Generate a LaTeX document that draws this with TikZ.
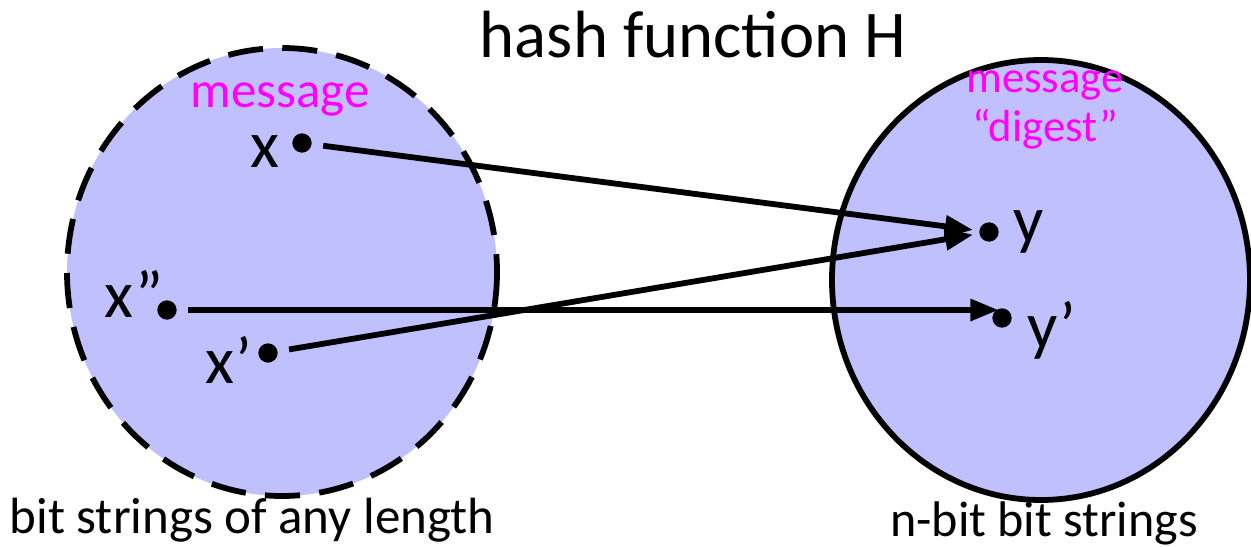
\documentclass[tikz,border=0pt]{standalone}
\usepackage{fontspec}
\setmainfont{Carlito}
\usetikzlibrary{arrows.meta}

\definecolor{setfill}{HTML}{C0C0FF}
\definecolor{msgpink}{HTML}{FF00FF}

\tikzset{
  dot/.style={circle, fill=black, inner sep=0pt, minimum size=11pt},
  elem/.style={font=\fontsize{38}{40}\selectfont},
  setname/.style={text=msgpink, font=\fontsize{29}{30}\selectfont, align=center},
  caption/.style={font=\fontsize{29}{30}\selectfont},
  map/.style={-{Triangle[length=16pt, width=12pt]}, shorten <=5pt, shorten >=2pt}
}

\begin{document}
\begin{tikzpicture}[x=0.02cm, y=-0.02cm, line width=3.3pt]
                \useasboundingbox (0,0) rectangle (1251,547);

                % Domain and range:
                \draw[fill=setfill, dash pattern=on 20pt off 11pt] (282,272) ellipse [x radius=215, y radius=224];
                \draw[fill=setfill] (1041,280) ellipse [x radius=209, y radius=220];

                % Title and captions:
                \node[font=\fontsize{38}{40}\selectfont] (title) at (693,35) {hash function H};
                \node[caption] (dom) at (252,520) {bit strings of any length};
                \node[caption, font=\fontsize{28.5}{30}\selectfont] (rng) at (1044,523) {n-bit bit strings};
                \node[setname] (msg) at (280,100) {message};
                \node[setname, font=\fontsize{25.5}{28}\selectfont] (dig) at (1045,110) {message\\“digest”};

                % Points:
                \node[dot] (x) at (302,143) {};
                \node[dot] (x2) at (167,310) {};
                \node[dot] (x1) at (268,353) {};
                \node[dot] (y) at (989,232) {};
                \node[dot] (y1) at (1002,318) {};

                \node[elem] at (265,152) {x};
                \node[elem] at (134,294) {x”};
                \node[elem] at (229,360) {x’};
                \node[elem] at (1029,232) {y};
                \node[elem] at (1052,330) {y’};

                % Hash arrows:
                \draw[map] (x) -- (y);
                \draw[map] (x1) -- (y);
                \draw[map] (x2) -- (y1 |- x2);
            \end{tikzpicture}
\end{document}
